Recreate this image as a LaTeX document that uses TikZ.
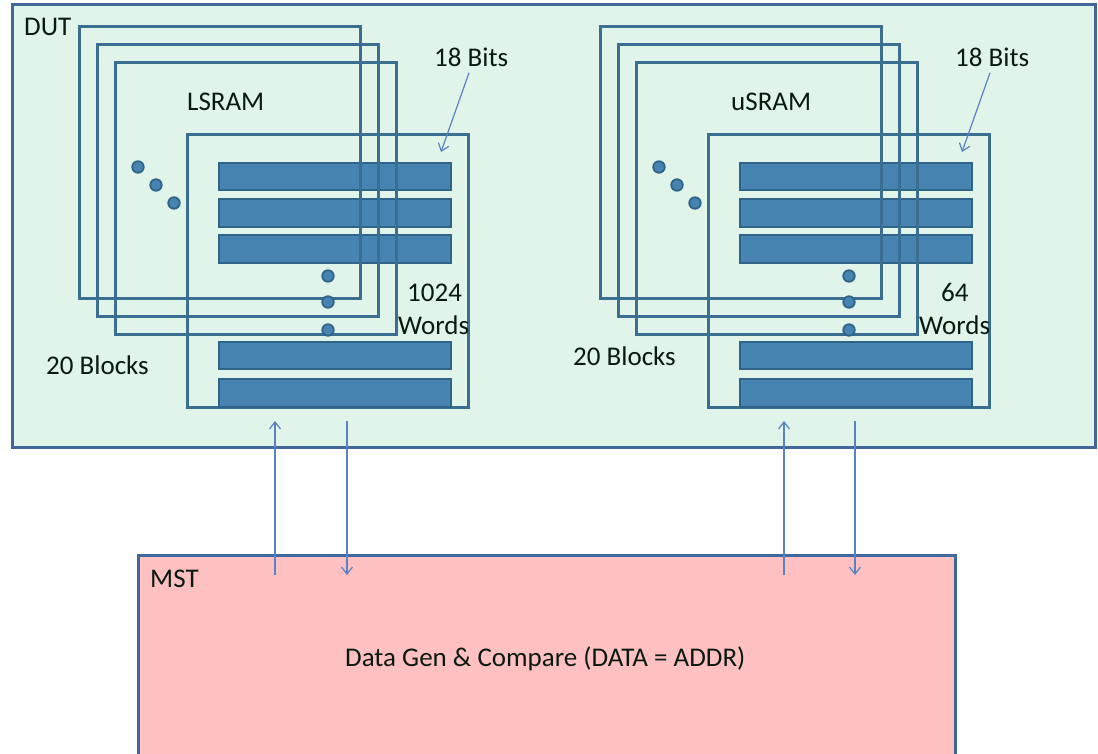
\documentclass[tikz,border=0pt]{standalone}
\usepackage{fontspec}
\setmainfont{Carlito}
\usetikzlibrary{arrows.meta}
\definecolor{dutfill}{HTML}{E0F4EA}
\definecolor{boxline}{HTML}{41669A}
\definecolor{frameline}{HTML}{3A6F92}
\definecolor{barfill}{HTML}{4884B1}
\definecolor{barline}{HTML}{2F6489}
\definecolor{arrowc}{HTML}{5A82C2}
\definecolor{mstfill}{HTML}{FEC0C1}
\definecolor{txt}{HTML}{0B1A10}
\tikzset{
  lbl/.style={inner sep=0pt, text=txt, font=\fontsize{27}{30}\selectfont},
  rbox/.style={draw, anchor=north west, inner sep=0pt, outer sep=0pt},
  dutbox/.style={rbox, draw=boxline, fill=dutfill, line width=3pt},
  mstbox/.style={rbox, draw=boxline, fill=mstfill, line width=3pt},
  frame/.style={rbox, draw=frameline, line width=3pt},
  bar/.style={rbox, draw=barline, fill=barfill, line width=2.5pt},
  dotc/.style={circle, draw=barline, fill=barfill, line width=1.8pt, minimum size=11.5pt, inner sep=0pt},
  ptr/.style={draw=arrowc, line width=1.2pt, -{Straight Barb[length=7pt,width=11pt]}},
}
\newcommand\bx[6]{\node[#1, minimum width={#5-#3}, minimum height={#6-#4}] (#2) at (#3,#4) {};}
\newcommand\sramshapes{%
  \bx{frame}{front}{187}{135}{468}{407}
  \bx{bar}{bar1}{219}{163}{451}{190}
  \bx{bar}{bar2}{219}{199}{451}{227}
  \bx{bar}{bar3}{219}{235}{451}{263}
  \bx{bar}{bar4}{219}{342}{451}{369}
  \bx{bar}{bar5}{219}{379}{451}{407}
  \bx{frame}{back1}{79}{27}{360}{298}
  \bx{frame}{back2}{97}{45}{378}{316}
  \bx{frame}{back3}{115}{63}{396}{334}
  \node[dotc] (d1) at (138,167) {};
  \node[dotc] (d2) at (156,185) {};
  \node[dotc] (d3) at (174,203) {};
  \node[dotc] (v1) at (328,276) {};
  \node[dotc] (v2) at (328,302) {};
  \node[dotc] (v3) at (328,330) {};
  \node[lbl, anchor=base west] (bits) at (434,66.7) {18 Bits};
  \coordinate (tip) at (441,152);
  \draw[ptr, shorten <=6pt] (bits.south -| 471,0) -- (tip);
}
\begin{document}
\begin{tikzpicture}[x=1pt,y=-1pt]
\clip (0,0) rectangle (1098,754);
\fill[white] (0,0) rectangle (1098,754);
\bx{dutbox}{dut}{12}{5}{1095}{447}
\bx{mstbox}{mst}{138}{555}{955}{800}
\node[lbl, anchor=base west] (dutl) at (24,35.7) {DUT};
\node[lbl, anchor=base west] (mstl) at (150,587) {MST};
\node[lbl, anchor=base west] (gen) at (345,666) {Data Gen \& Compare (DATA = ADDR)};
\begin{scope}[name prefix=l-]
  \sramshapes
  \node[lbl, anchor=base west] (name) at (187,111) {LSRAM};
  \node[lbl, anchor=base west] (n1) at (407,301.7) {1024};
  \node[lbl, anchor=base west] (n2) at (398,334) {Words};
  \node[lbl, anchor=base west] (blk) at (46,374.5) {20 Blocks};
\end{scope}
\begin{scope}[shift={(521,0)}, name prefix=u-]
  \sramshapes
\end{scope}
\node[lbl, anchor=base west] (u-name) at (731,111) {uSRAM};
\node[lbl, anchor=base west] (u-n1) at (941,301.7) {64};
\node[lbl, anchor=base west] (u-n2) at (919,334) {Words};
\node[lbl, anchor=base west] (u-blk) at (573,365) {20 Blocks};
% connectors between MST and DUT
\coordinate (a1s) at (275,575); \coordinate (a1e) at (275,421);
\coordinate (a2s) at (347,421); \coordinate (a2e) at (347,575);
\coordinate (a3s) at (784,575); \coordinate (a3e) at (784,421);
\coordinate (a4s) at (855,421); \coordinate (a4e) at (855,575);
\draw[ptr] (a1s) -- (a1e);
\draw[ptr] (a2s) -- (a2e);
\draw[ptr] (a3s) -- (a3e);
\draw[ptr] (a4s) -- (a4e);
\end{tikzpicture}
\end{document}
